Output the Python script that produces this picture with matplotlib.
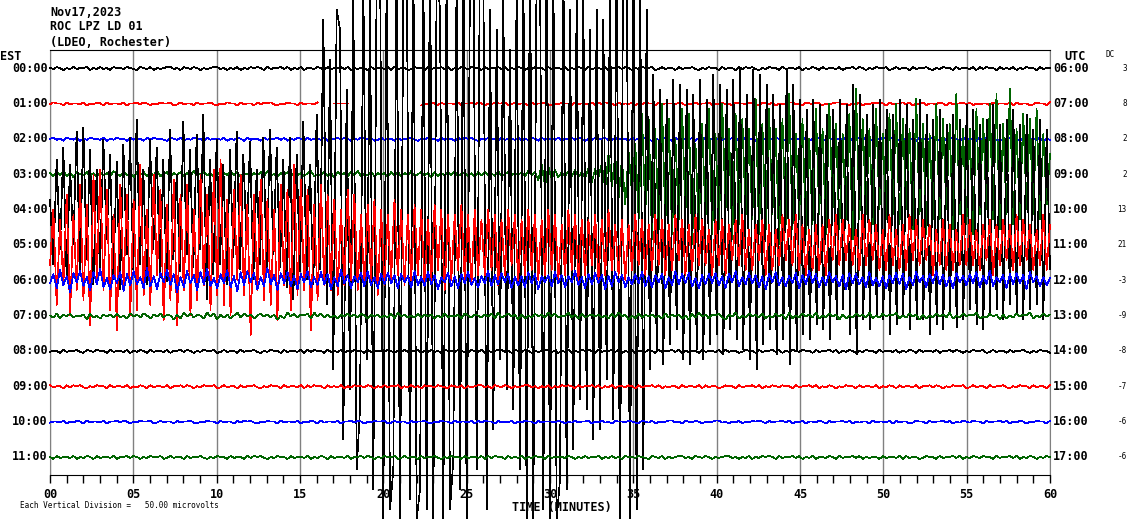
import numpy as np
import matplotlib
matplotlib.use('Agg')
import matplotlib.pyplot as plt

# helicorder page: one trace per hour, 60 minutes across
W, H = 1130, 519
DIV = 35.36          # counts per vertical division (= trace spacing)

est_labels = ['00:00', '01:00', '02:00', '03:00', '04:00', '05:00',
              '06:00', '07:00', '08:00', '09:00', '10:00', '11:00']
utc_labels = ['06:00', '07:00', '08:00', '09:00', '10:00', '11:00',
              '12:00', '13:00', '14:00', '15:00', '16:00', '17:00']
dc_offsets = [3, 8, 2, 2, 13, 21, -3, -9, -8, -7, -6, -6]
minute_ticks = [0, 5, 10, 15, 20, 25, 30, 35, 40, 45, 50, 55, 60]
minute_labels = ['00', '05', '10', '15', '20', '25', '30',
                 '35', '40', '45', '50', '55', '60']
trace_colors = ['black', 'red', 'blue', '#006400'] * 3

# quiet hours: one digit per sample, value = digit - 5 counts, '.' = no data
q00 = ("546535464556354645365546543654"
       "635456645365465354566453546354"
       "656536455646354635546536455646"
       "354553645546364553465536455646"
       "354654655364556463546535465536"
       "455463546536455463556465354655"
       "634645536455643546553645536465"
       "643546553645546354653645546355"
       "646535465563464553645564354655"
       "364554636465536454635465536455")
q01 = ("465536455463546536455463556465"
       "354655634645536455643546553645"
       "536465643546553645546....55555"
       "....................." "354653645"
       "546355646535465563464553645564"
       "354655364554636465536454635465"
       "536455546535464556354645365546"
       "543654635456645365465354566453"
       "546354656536455646354635546536"
       "455646354553645546364553465536")
q02 = ("564536546354655463546553645536"
       "465543654635465536455463546536"
       "455364556463546536455463556465"
       "354655634645536455643546553645"
       "536465643546553645546354653645"
       "546355646535465563464553645564"
       "354655364554636465536454635465"
       "536455465536455463546536455463"
       "556465354655634645536455643546"
       "553645536465643546553645546354")
q07 = ("537264735461735264637352746375"
       "264736516284736528471636258374"
       "625746361528473657284736352647"
       "463752646353728463537364625373"
       "546275365364728357461625374638"
       "473548362735646352738461527364"
       "635273646251738462657316482537"
       "463725374618253746382537461625"
       "374638253746582537461625374638"
       "253746582437461625374658253746")
q08 = ("455364556436546553645546354653"
       "645546355646535465563464553645"
       "564354655364554636465536454635"
       "465536455546535464556354645365"
       "546543654635456645365465354566"
       "453546354656536455646354635546"
       "536455646354553645546364553465"
       "536455646354654655364556463546"
       "535465536455463546536455463556"
       "465354655634645536455643546553")
q09 = ("645536465643546553645546354653"
       "645546355646535465563464553645"
       "564354655364554636465536454635"
       "465546535464556354645365546543"
       "654635456645365465354566453546"
       "354656536455646354635546536455"
       "646354553645546364553465536455"
       "646354654655364556463546535465"
       "536455463546536455463556465354"
       "655634645536455643546553645536")
q10 = ("455463546536455463556465354655"
       "634645536455643546553645536465"
       "643546553645546354653645546355"
       "646535465563464553645564354655"
       "364554636465536454635465536455"
       "546535464556354645365546543654"
       "635456645365465354566453546354"
       "656536455646354635546536455646"
       "354553645546364553465536455646"
       "354654655364556463546535465536")
q11 = ("536455463546536455463556465354"
       "655634645536455643546553645536"
       "465643546553645546354653645546"
       "355646535465563464553645564354"
       "655364554636465536454635465536"
       "455546535464556354645365546543"
       "654635456645365465354566453546"
       "354656536455646354635546536455"
       "646354553645546364553465536455"
       "646354654655364556463546535465")

# busy hours, counts, 5 samples per minute
green03 = [1, -2, 2, -1, 3, -2, 1, -3, 2, 0, -1, 2, -2, 1, -3, 2, -1, 1, -2, 3, 0, -2, 2, -1, 1, -3, 2, -1, 2, -2,
           1, -1, 3, -2, 0, 2, -3, 1, -1, 2, -2, 1, -2, 3, -1, 0, 2, -1, 1, -3,
           2, -2, 1, -1, 3, -1, 2, -3, 1, 0, -2, 1, -1, 2, -2, 3, -1, 0, -2, 1, -1, 2, -3, 2, -1, 1, -2, 1, 3, -2,
           0, -1, 2, -2, 1, -3, 2, -1, 1, -2, 2, -1, 3, -2, 0, -1, 2, -2, 1, -1,
           1, -3, 2, -1, 2, -2, 1, -1, 3, -2, 0, 2, -1, 1, -3, 2, -2, 1, -1, 2, -1, 3, -2, 0, 1, -2, 1, -3, 2, -1,
           2, -1, 1, -2, 3, -2, 0, 2, -1, 1, -1, 2, -2, 3, -1, 2, -6, 10, -12, 8,
           -5, 4, -3, 2, -2, 3, -2, 4, -3, 2, -4, 6, -8, 5, -3, 10, -15, 20, -12, 18, -25, 15, -30, 22, -18,
           30, -45, 60, -40, 55, -65, 45, -55, 70, -50, 55, -60, 35, -45, 65, -40, 60, -70, 30, -55, 50, -45, 65, -60, 40,
           -55, 70, -35, 45, -65, 60, -50, 55, -40, 45, -45, 75, -60, 50, -55, 65, -40, 45, -70, 55, -50, 80, -55, 40, -45,
           55, -60, 35, -50, 65, -40, 45, -60, 70, -35, 50, -55, 40, -45, 60, -65, 85, -45, 55, -40, 45, -50, 65, -35, 40,
           -45, 60, -40, 70, -50, 55, -35, 45, -55, 75, -40, 50, -60, 40, -45, 70, -45, 55, -35, 50, -55, 80, -40, 45, -50,
           45, -60, 65, -40, 55, -35, 70, -45, 80, -55, 50, -40, 85, -50, 45, -45, 60, -35, 55, -40, 65, -45, 40, -30, 20]
black04 = [10, -55, 50, -40, 62, -70, 45, -35, 78, -60, 82, -50, 60, -75, 40, -65, 70, -30, 55, -70, 48, -80, 65, -45, 72,
           -60, 90, -55, 40, -75, 70, -40, 62, -68, 50, -72, 80, -50, 35, -62, 88, -45, 60, -58, 75, -40, 95, -90, 50, -65,
           70, -55, 45, -75, 60, -48, 78, -60, 55, -35, 68, -70, 40, -55, 72, -60, 80, -45, 62, -58, 50, -78, 72, -90, 55,
           -62, 88, -70, 45, -75, 95, -60, 190, -95, 150,
           -160, 200, 180, -230, 120, -180, 215, -260, -200, 230, -150, 210, -280, 240, 260,
           -310, 250, -300, -260, 270, -310, 220, 260, -290, 260, -310, -280, 250, -300, 280,
           -310, 240, 200, -310, 260, -300, -250, 250, -280, 270, -310, 240, 260, -260, 280,
           240, -300, 200, -220, 180, -150, 210, -180, 160, -200,
           230, -260, 250, -310, 270, -310, 260, 240, -300, 280,
           -310, 250, -310, -270, 260, -280, 200, -240, 220, -190, 210, -200, 180, -230, 200, -220, 190, -170, 230, -210,
           260, -310, 280, 240, -310, 270, -300, 250, -260, 200,
           -160, 135, -140, 120, -155, 110, -135, 130, -120, 125, -150, 120, -155, 115, -140,
           130, -150, 110, -135, 135, -125, 125, -145, 120, -120, 130, -130, 140, -140, 115,
           -150, 140, -160, 135, -135, 125, -120, 115, -145, 105, -130,
           140, -155, 125, -140, 110, -125, 100, -130, 110, -115, 105, -120, 95, -130, 100, -110, 110, -100, 105, -125,
           125, -145, 115, -110, 95, -120, 105, -105, 110, -110,
           100, -125, 95, -115, 110, -105, 105, -120, 90, -110, 110, -110, 95, -125, 90, -115, 100, -120, 85, -105,
           95, -118, 90, -110, 105, -100, 100, -115, 85, -120, 90, -105, 105, -100, 85, -110, 90, -95, 100, -105,
           85, -110, 95, -100, 80, -95, 90, -110, 80, -60]
red05 = [-20, 35, -60, 25, -40, 50, -70, 30, -45, 60, -55, 40, -80, 70, -35, 75, -45, 55, -65, 30, -85, 60, -40, 50, -70,
         45, -65, 80, -50, 35, -60, 70, -30, 55, -75, 40, -55, 65, -80, 50, -45, 60, -70, 35, -55, 70, -40, 50, -65, 75,
         -50, 85, -60, 45, -70, 55, -35, 70, -50, 40, -90, 50, -45, 65, -55, 45, -60, 35, -75, 60, -40, 55, -65, 80, -50,
         65, -45, 55, -85, 40, -55, 60, -40, 50, -45, 45, -50, 35, -40, 55, -35, 50, -45, 30, -40, 40, -35, 45, -50, 35,
         -40, 30, -35, 45, -30, 35, -40, 30, -35, 40, -30, 35, -40, 25, -35, 40, -25, 35, -45, 30, -35, 30, -25, 40, -35,
         30, -40, 35, -30, 25, -30, 35, -25, 30, -40, 25, -30, 35, -20, 30, -35, 25, -30, 35, -25, 30, -35, 25, -30, 35,
         -25, 30, -35, 20, -30, 35, -25, 30, -35, 25, -30, 25, -20, 30, -35, 25, -30, 35, -25, 20, -30, 25, -35, 20, -25,
         30, -20, 25, -30, 20, -25, 30, -20, 25, -30, 20, -25, 30, -15, 25, -30, 20, -25, 30, -20, 25, -20, 15, -30, 25,
         -20, 25, -30, 20, -15, 25, -20, 30, -25, 15, -25, 20, -15, 25, -30, 20, -25, 15, -20, 30, -15, 25, -20, 30, -25,
         20, -30, 15, -25, 20, -25, 20, -30, 25, -15, 30, -20, 25, -15, 20, -20, 15, -25, 30, -20, 25, -15, 20, -25, 15,
         -25, 30, -20, 15, -25, 20, -25, 30, -15, 25, -20, 25, -15, 20, -30, 15, -20, 25, -25, 20, -25, 15, -20, 30, -20,
         25, -20, 15, -25, 20, -15, 25, -30, 20, -20, 25, -15, 20, -25, 30, -20, 25, -15, 20, -25, 15, -20, 30, -25, 20]
blue06 = [-3, 6, -8, 10, -5, 4, -12, 7, -2, 9, -6, 3, -10, 8, -4, 11, -7, 2, -9, 5, -3, 8, -11, 6, -5,
          9, -4, 3, -8, 12, -6, 4, -9, 7, -2, 10, -5, 6, -12, 3, -7, 9, -3, 5, -10, 8, -4, 11, -6, 2,
          -8, 6, -3, 10, -7, 4, -11, 8, -5, 9, -2, 7, -9, 3, -6, 12, -4, 5, -10, 7, -3, 8, -6, 4, -9,
          6, -2, 9, -7, 3, -5, 8, -4, 6, -9, 3, -6, 10, -3, 5, -8, 4, -2, 7, -6, 9, -5, 3, -8, 6,
          -4, 7, -3, 5, -8, 6, -2, 4, -7, 9, -5, 3, -6, 8, -4, 5, -9, 3, -2, 7, -6, 4, -8, 6, -3,
          8, -5, 2, -7, 4, -3, 9, -6, 5, -4, 7, -2, 6, -8, 3, -5, 4, -7, 8, -3, 6, -9, 4, -2, 5,
          -6, 8, -3, 5, -7, 4, -2, 9, -5, 3, -8, 6, -4, 7, -3, 5, -9, 4, -6, 8, -2, 5, -7, 3, -4,
          6, -3, 8, -6, 4, -7, 5, -2, 6, -8, 3, -5, 9, -4, 6, -3, 7, -6, 2, -8, 5, -4, 6, -3, 7,
          -5, 4, -8, 6, -2, 9, -6, 3, -4, 7, -3, 5, -7, 4, -9, 6, -2, 8, -5, 3, -6, 4, -3, 7, -8,
          5, -4, 9, -3, 6, -7, 3, -5, 8, -2, 4, -6, 5, -9, 7, -3, 6, -4, 3, -7, 8, -5, 2, -6, 4,
          -8, 5, -3, 7, -4, 6, -9, 3, -5, 8, -2, 4, -7, 6, -3, 9, -4, 5, -6, 3, -8, 7, -2, 4, -5,
          6, -3, 8, -7, 4, -4, 9, -6, 3, -2, 5, -8, 6, -4, 7, -3, 5, -9, 8, -2, 4, -6, 3, -5, 2]


def decode(s):
    return [np.nan if c == '.' else int(c) - 5 for c in s]


traces = [decode(q00), decode(q01), decode(q02), green03, black04, red05,
          blue06, decode(q07), decode(q08), decode(q09), decode(q10), decode(q11)]

plt.rcParams['font.family'] = 'DejaVu Sans Mono'
plt.rcParams['font.weight'] = 'bold'

fig = plt.figure(figsize=(W / 100, H / 100), dpi=100)
ax = fig.add_axes([50 / W, 1 - 475 / H, 1000 / W, 425 / H])

for i, vals in enumerate(traces):
    vals = np.asarray(vals, dtype=float)
    t = np.linspace(0, 60, len(vals))
    ax.plot(t, i - vals / DIV, color=trace_colors[i], lw=0.5, clip_on=False,
            antialiased=False, zorder=3)
    ax.text(-0.15, i, est_labels[i], ha='right', va='center', fontsize=8.5)
    ax.text(60.2, i, utc_labels[i], ha='left', va='center', fontsize=8.5)
    ax.text(64.6, i, str(dc_offsets[i]), ha='right', va='center',
            fontsize=5.5, fontweight='normal')

ax.set_xlim(0, 60)
ax.set_ylim(11.51, -0.51)
ax.set_yticks([])
ax.set_xticks(minute_ticks, labels=minute_labels)
ax.set_xticks(range(61), minor=True)
ax.tick_params(axis='x', which='both', direction='out', length=6, width=1, color='black')
ax.tick_params(axis='x', which='major', labelsize=8.5, pad=3)
ax.grid(axis='x', which='major', color='gray', lw=1)
ax.set_axisbelow(True)
for side in ['left', 'right']:
    ax.spines[side].set_color('gray')

fig.text(50 / W, 1 - 12 / H, 'Nov17,2023', ha='left', va='center', fontsize=8.5)
fig.text(50 / W, 1 - 27 / H, 'ROC LPZ LD 01', ha='left', va='center', fontsize=8.5)
fig.text(50 / W, 1 - 42 / H, '(LDEO, Rochester)', ha='left', va='center', fontsize=8.5)
fig.text(0, 1 - 56 / H, 'EST', ha='left', va='center', fontsize=8.5)
fig.text(1064 / W, 1 - 56 / H, 'UTC', ha='left', va='center', fontsize=8.5)
fig.text(1105 / W, 1 - 54 / H, 'DC', ha='left', va='center', fontsize=5.5, fontweight='normal')
fig.text(562 / W, 1 - 508 / H, 'TIME (MINUTES)', ha='center', va='center', fontsize=8.5)
fig.text(20 / W, 1 - 505 / H, 'Each Vertical Division =   50.00 microvolts',
         ha='left', va='center', fontsize=5.5, fontweight='normal')

fig.savefig('out.png', dpi=100)
